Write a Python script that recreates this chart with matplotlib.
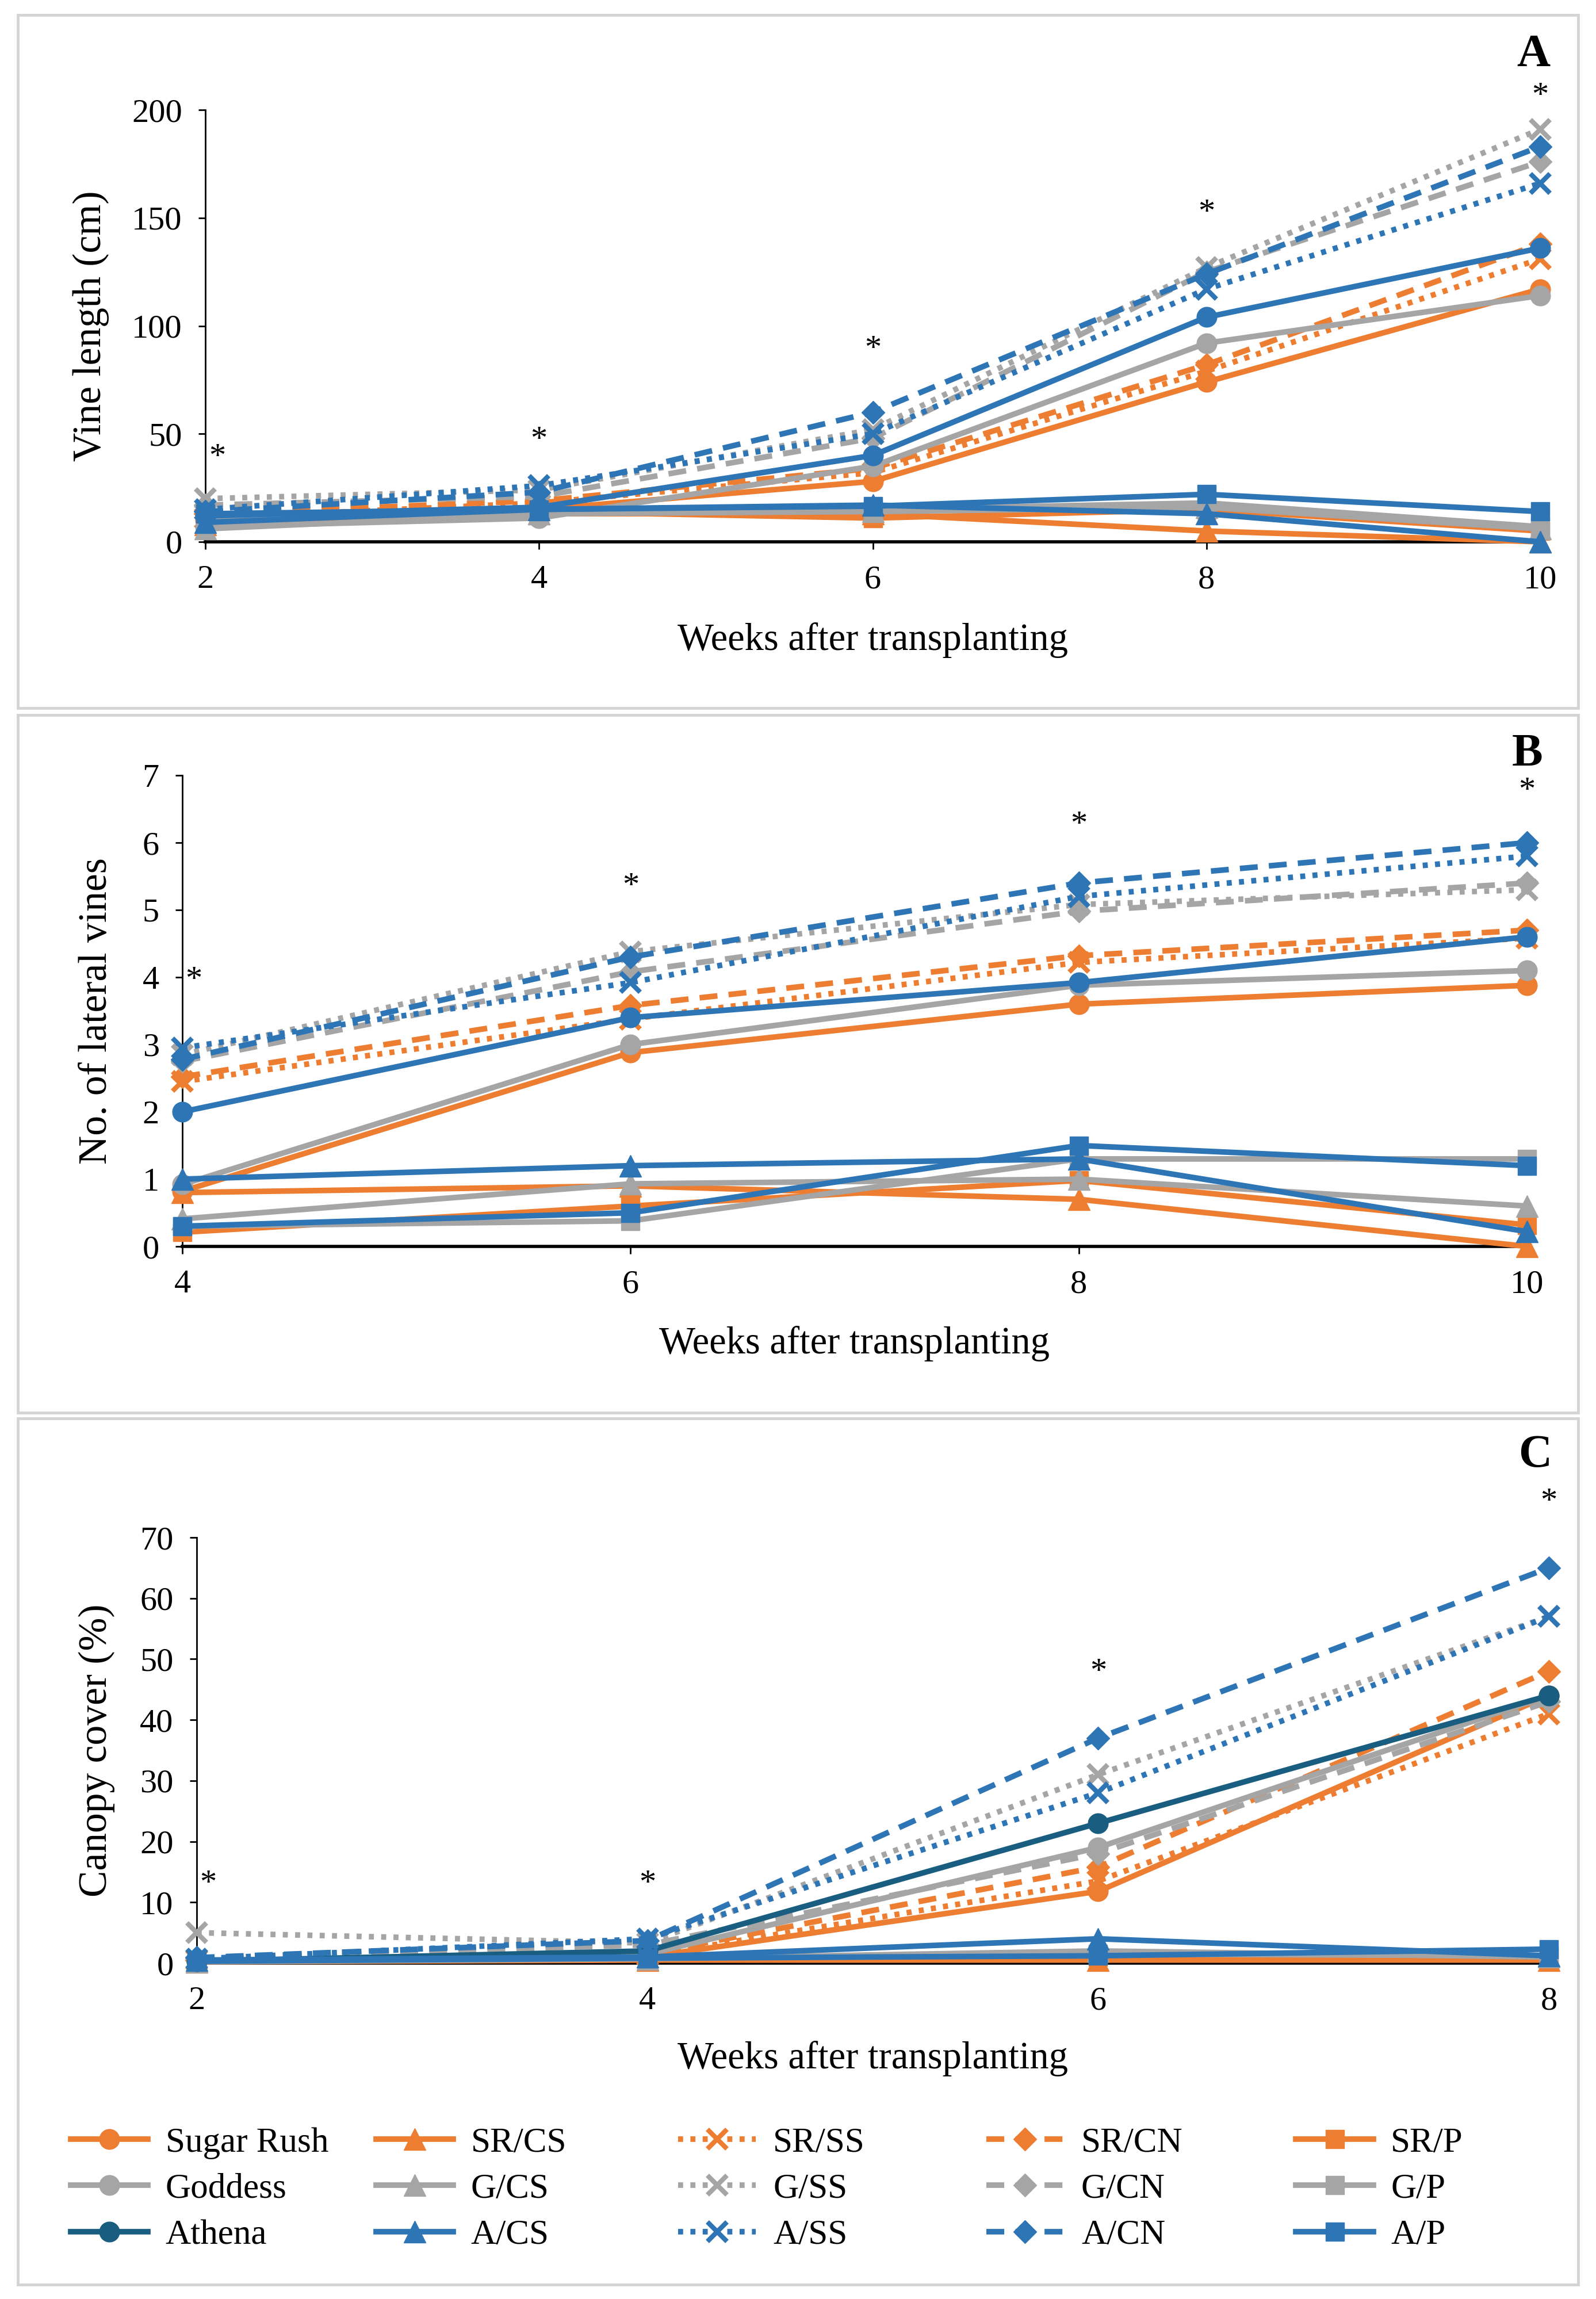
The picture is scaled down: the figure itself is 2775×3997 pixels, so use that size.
import matplotlib
matplotlib.use("Agg")
import matplotlib.pyplot as plt
from matplotlib.lines import Line2D
from matplotlib.patches import Rectangle

plt.rcParams['font.family'] = ['Liberation Serif', 'DejaVu Serif']

# ---------------- Panel A: vine length (cm) ----------------
weeks_vine = [2, 4, 6, 8, 10]
vine_sugar_rush = [10, 15, 28, 74, 117]
vine_sr_cs = [8, 13, 13, 5, 0]
vine_sr_ss = [11, 18, 32, 79, 131]
vine_sr_cn = [13, 19, 34, 82, 138]
vine_sr_p = [9, 14, 11, 15, 5]
vine_goddess = [7, 11, 35, 92, 114]
vine_g_cs = [6, 13, 14, 16, 6]
vine_g_ss = [20, 24, 52, 127, 191]
vine_g_cn = [17, 21, 48, 125, 176]
vine_g_p = [10, 14, 15, 18, 7]
vine_athena = [12, 16, 40, 104, 136]
vine_a_cs = [9, 15, 17, 13, 0]
vine_a_ss = [15, 26, 50, 117, 166]
vine_a_cn = [14, 23, 60, 124, 183]
vine_a_p = [13, 15, 16.5, 22, 14]
vine_star_x = [2.07, 4, 6, 8, 10]
vine_star_y = [39, 47, 89, 152, 206]

# ---------------- Panel B: number of lateral vines ----------------
weeks_lat = [4, 6, 8, 10]
lat_sugar_rush = [0.82, 2.88, 3.6, 3.88]
lat_sr_cs = [0.8, 0.9, 0.7, 0.0]
lat_sr_ss = [2.45, 3.38, 4.22, 4.58]
lat_sr_cn = [2.52, 3.58, 4.32, 4.7]
lat_sr_p = [0.21, 0.6, 0.98, 0.32]
lat_goddess = [0.92, 3.0, 3.88, 4.1]
lat_g_cs = [0.41, 0.93, 1.0, 0.6]
lat_g_ss = [2.85, 4.38, 5.08, 5.3]
lat_g_cn = [2.75, 4.08, 4.98, 5.4]
lat_g_p = [0.3, 0.38, 1.3, 1.3]
lat_athena = [2.0, 3.4, 3.92, 4.6]
lat_a_cs = [1.0, 1.2, 1.3, 0.22]
lat_a_ss = [2.95, 3.92, 5.2, 5.8]
lat_a_cn = [2.78, 4.3, 5.4, 6.0]
lat_a_p = [0.3, 0.5, 1.5, 1.2]
lat_star_x = [4.05, 6, 8, 10]
lat_star_y = [3.95, 5.34, 6.26, 6.76]

# ---------------- Panel C: canopy cover (%) ----------------
weeks_can = [2, 4, 6, 8]
can_sugar_rush = [0.3, 1.0, 11.8, 44]
can_sr_cs = [0.2, 0.5, 0.5, 0.5]
can_sr_ss = [0.5, 1.2, 13.5, 41]
can_sr_cn = [0.5, 1.5, 15.8, 48]
can_sr_p = [0.3, 0.8, 1.0, 1.0]
can_goddess = [0.4, 1.5, 19, 44]
can_g_cs = [0.2, 0.7, 2.0, 1.0]
can_g_ss = [5.0, 3.3, 31, 57]
can_g_cn = [0.8, 3.0, 18, 43]
can_g_p = [0.3, 0.8, 1.5, 1.2]
can_athena = [0.3, 2.0, 23, 44]
can_a_cs = [0.5, 1.0, 4.0, 1.2]
can_a_ss = [0.7, 4.0, 28, 57]
can_a_cn = [0.9, 3.7, 37, 65]
can_a_p = [0.3, 0.8, 1.2, 2.3]
can_star_x = [2.05, 4, 6, 8]
can_star_y = [13, 13, 47.8, 75.8]

series_names = ['Sugar Rush', 'SR/CS', 'SR/SS', 'SR/CN', 'SR/P',
                'Goddess', 'G/CS', 'G/SS', 'G/CN', 'G/P',
                'Athena', 'A/CS', 'A/SS', 'A/CN', 'A/P']

vine_values = [vine_sugar_rush, vine_sr_cs, vine_sr_ss, vine_sr_cn, vine_sr_p,
               vine_goddess, vine_g_cs, vine_g_ss, vine_g_cn, vine_g_p,
               vine_athena, vine_a_cs, vine_a_ss, vine_a_cn, vine_a_p]
lat_values = [lat_sugar_rush, lat_sr_cs, lat_sr_ss, lat_sr_cn, lat_sr_p,
              lat_goddess, lat_g_cs, lat_g_ss, lat_g_cn, lat_g_p,
              lat_athena, lat_a_cs, lat_a_ss, lat_a_cn, lat_a_p]
can_values = [can_sugar_rush, can_sr_cs, can_sr_ss, can_sr_cn, can_sr_p,
              can_goddess, can_g_cs, can_g_ss, can_g_cn, can_g_p,
              can_athena, can_a_cs, can_a_ss, can_a_cn, can_a_p]

ORANGE = '#ED7D31'
GRAY = '#A5A5A5'
BLUE = '#2E75B6'
TEAL = '#195E80'

DOT = (0, (0.9, 1.3))
DASH = (0, (3.2, 2.0))
LW = 7

def style(i, athena_color=BLUE):
    group = i // 5
    kind = i % 5
    color = [ORANGE, GRAY, BLUE][group]
    if i == 10:
        color = athena_color
    ls = ['-', '-', DOT, DASH, '-'][kind]
    marker = ['o', '^', 'x', 'D', 's'][kind]
    ms = [25, 27, 24, 20, 23][kind]
    return dict(color=color, linestyle=ls, marker=marker, markersize=ms,
                markeredgewidth=6 if marker == 'x' else 1,
                markeredgecolor=color, markerfacecolor=color)

FIG_W, FIG_H = 2775, 3997
fig = plt.figure(figsize=(27.75, 39.97), dpi=100)

# panel frames
for (y0, y1) in [(26, 1231), (1243, 2456), (2466, 3972)]:
    fig.patches.append(Rectangle((31 / FIG_W, 1 - y1 / FIG_H),
                                 (2744 - 31) / FIG_W, (y1 - y0) / FIG_H,
                                 transform=fig.transFigure, fill=False,
                                 edgecolor='#D4D4D4', linewidth=3.5))

def make_axes(left, right, top, bottom):
    return fig.add_axes([left / FIG_W, 1 - bottom / FIG_H,
                         (right - left) / FIG_W, (bottom - top) / FIG_H])

axA = make_axes(357, 2678, 191, 942)
axB = make_axes(317, 2655, 1348, 2167)
axC = make_axes(342, 2693, 2673, 3413)

panels = [
    (axA, weeks_vine, vine_values, (0, 200), [0, 50, 100, 150, 200], 'Vine length (cm)',
     vine_star_x, vine_star_y, BLUE, -0.0857, -0.228),
    (axB, weeks_lat, lat_values, (0, 7), list(range(0, 8)), 'No. of lateral vines',
     lat_star_x, lat_star_y, BLUE, -0.0637, -0.206),
    (axC, weeks_can, can_values, (0, 70), list(range(0, 80, 10)), 'Canopy cover (%)',
     can_star_x, can_star_y, TEAL, -0.074, -0.224),
]

for ax, weeks, values, ylim, yticks, ylabel, sx, sy, acol, ylx, xly in panels:
    for i, vals in enumerate(values):
        ax.plot(weeks, vals, linewidth=LW, clip_on=False, zorder=3 + i * 0.01,
                **style(i, acol))
    ax.set_xlim(weeks[0], weeks[-1])
    ax.set_ylim(*ylim)
    ax.set_xticks(weeks)
    ax.set_yticks(yticks)
    for s in ['top', 'right']:
        ax.spines[s].set_visible(False)
    ax.spines['left'].set_linewidth(2.0)
    ax.spines['bottom'].set_linewidth(4.0)
    ax.tick_params(axis='both', direction='out', length=9, width=2, labelsize=42)
    ax.tick_params(axis='x', pad=20)
    ax.tick_params(axis='y', pad=20)
    ax.set_ylabel(ylabel, fontsize=50)
    ax.set_xlabel('Weeks after transplanting', fontsize=48)
    ax.yaxis.set_label_coords(ylx, 0.5)
    ax.yaxis.label.set_va('center')
    ax.xaxis.set_label_coords(0.5, xly)
    ax.xaxis.label.set_va('center')
    for x, y in zip(sx, sy):
        ax.text(x, y, '*', ha='center', va='center', fontsize=42, clip_on=False)

fig.text(0.961, 0.976, 'A', fontsize=58, fontweight='bold', ha='center', va='center')
fig.text(0.957, 0.672, 'B', fontsize=58, fontweight='bold', ha='center', va='center')
fig.text(0.962, 0.367, 'C', fontsize=58, fontweight='bold', ha='center', va='center')

# legend: 5 columns, each column one legend (rows: Sugar Rush / Goddess / Athena)
col_x = [0.0442, 0.2355, 0.425, 0.618, 0.812]
for j in range(5):
    handles = []
    labels = []
    for g in range(3):
        i = g * 5 + j
        st = style(i, TEAL)
        handles.append(Line2D([], [], linewidth=LW, **st))
        labels.append(series_names[i])
    leg = fig.legend(handles, labels, loc='center left',
                     bbox_to_anchor=(col_x[j], 0.0478),
                     bbox_transform=fig.transFigure, frameon=False,
                     fontsize=44, handlelength=2.2, handletextpad=0.5,
                     labelspacing=0.4, borderpad=0, borderaxespad=0,
                     numpoints=1)

fig.savefig('out.png', dpi=100)
